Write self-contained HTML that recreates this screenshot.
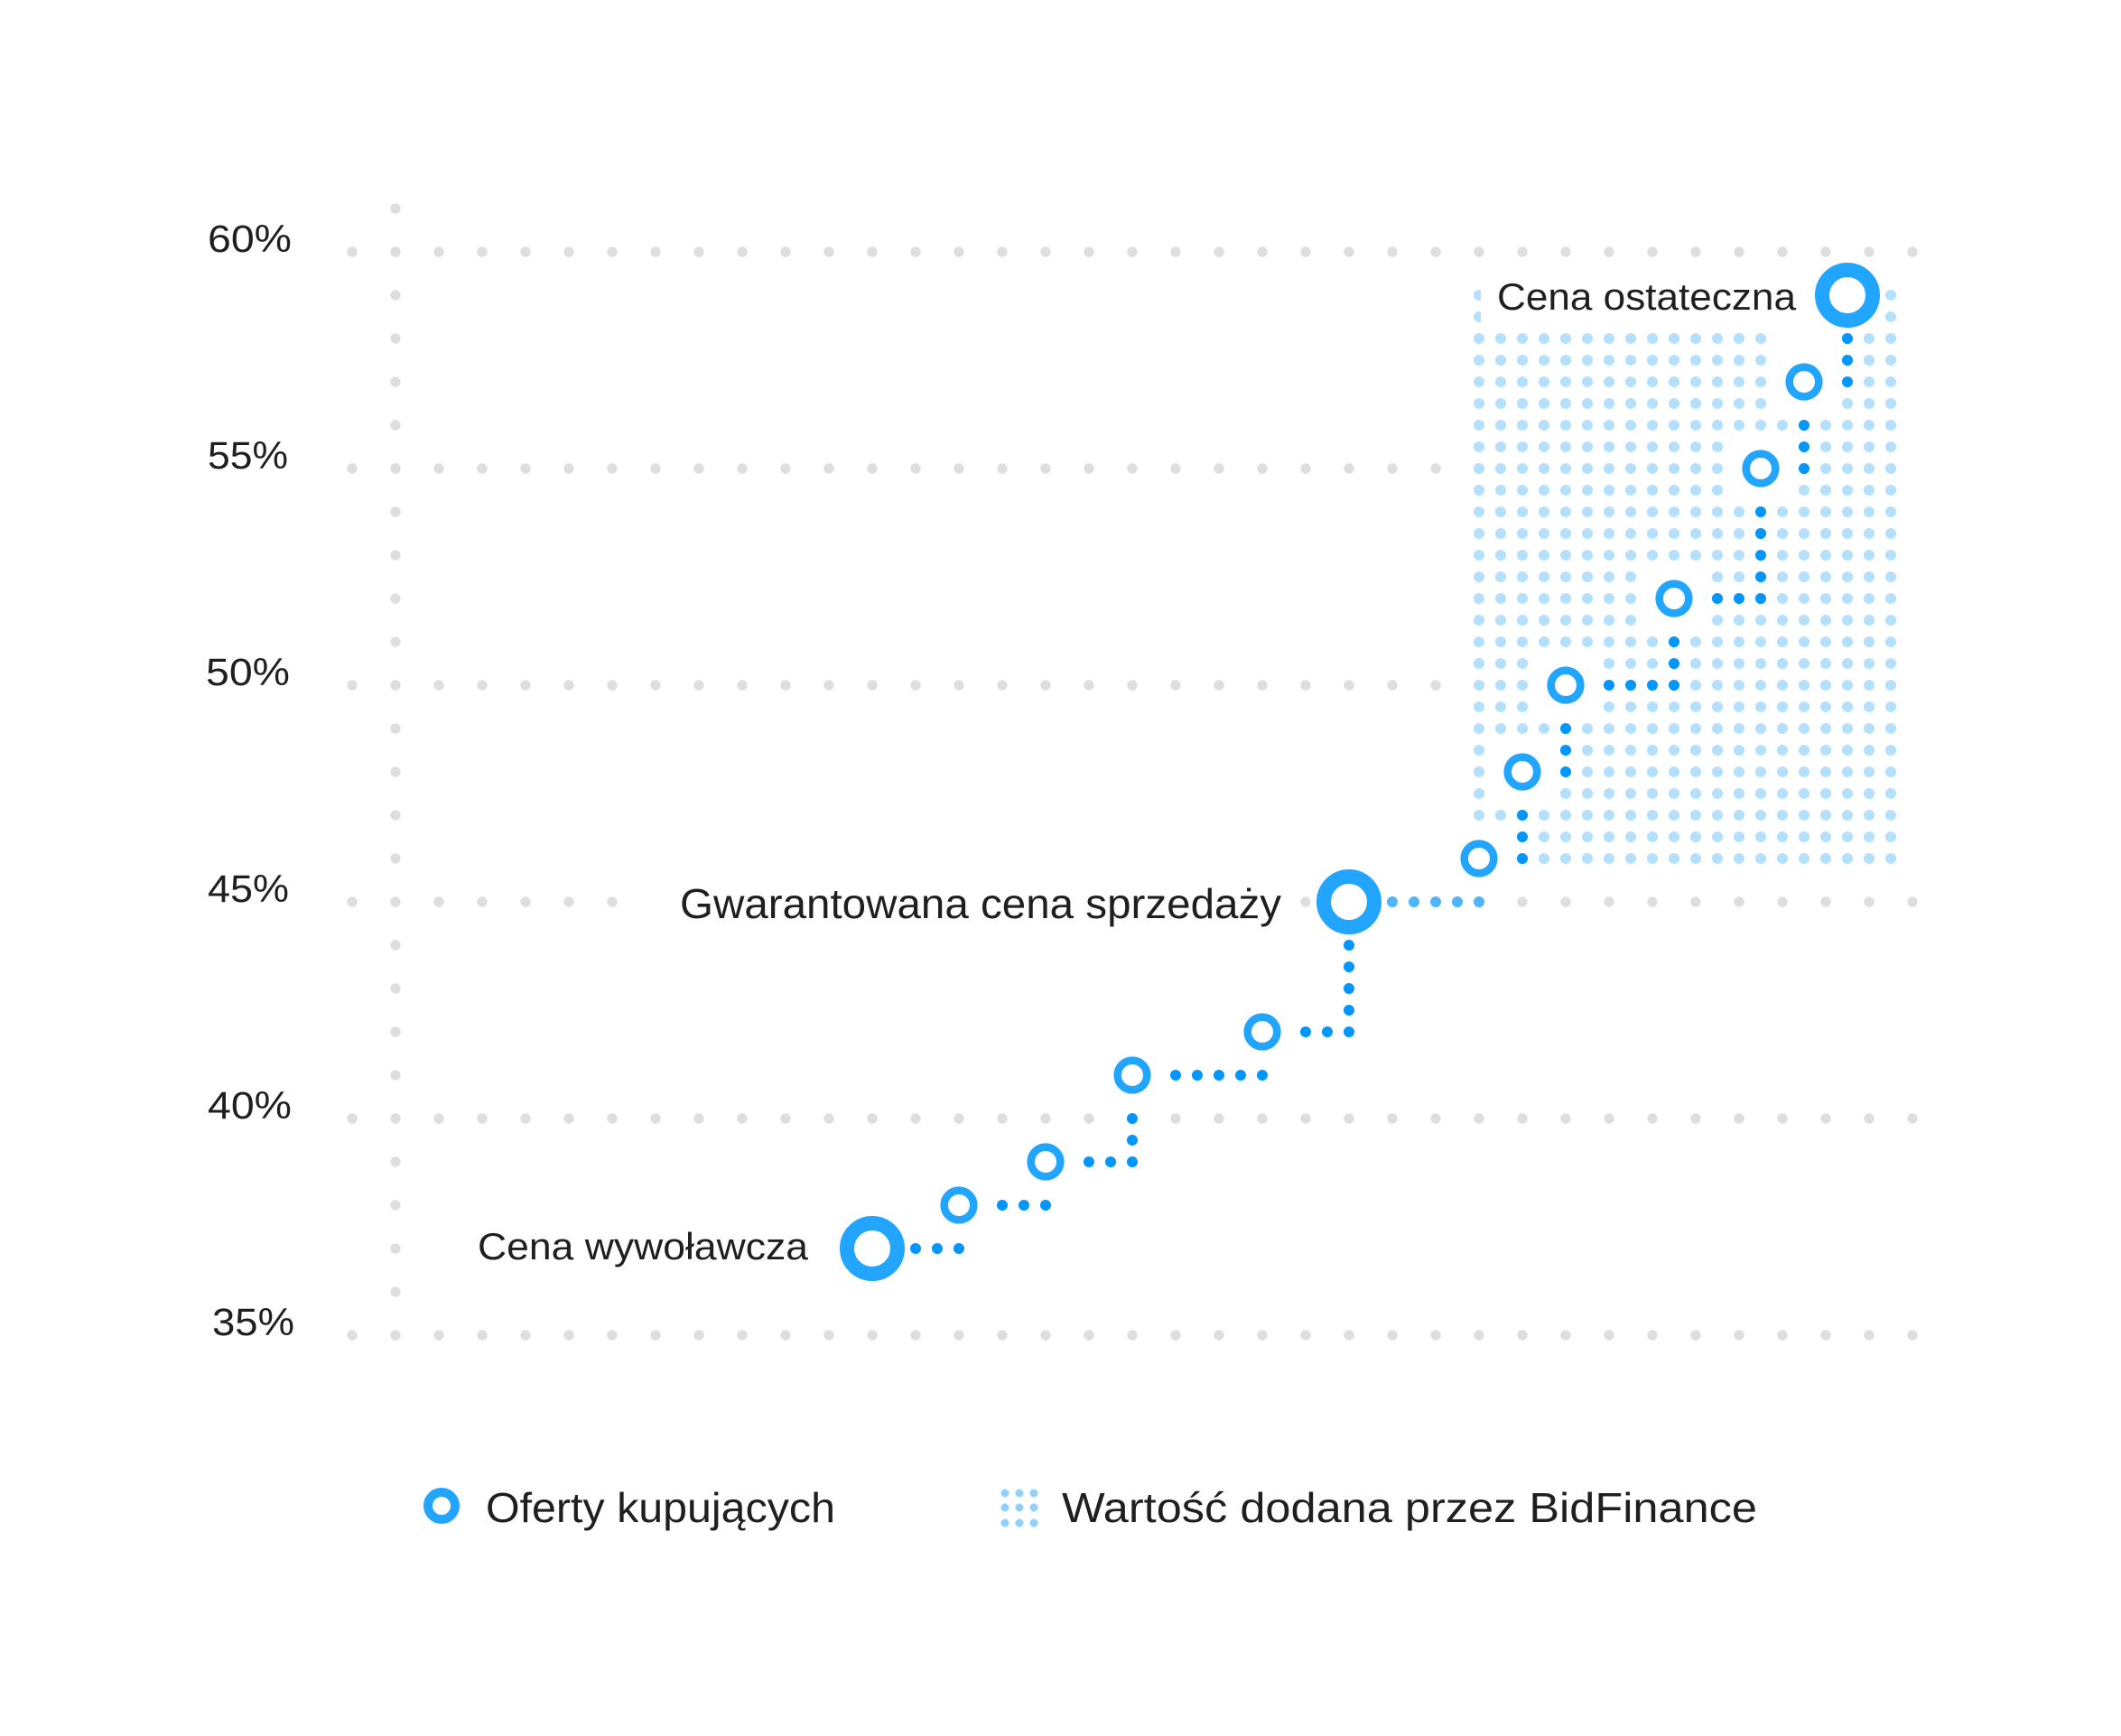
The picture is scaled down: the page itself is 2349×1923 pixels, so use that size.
<!DOCTYPE html>
<html><head><meta charset="utf-8"><style>
html,body{margin:0;padding:0;background:#fff;}
svg{display:block;}
text{font-family:"Liberation Sans","DejaVu Sans",sans-serif;fill:#1f1f1f;}
</style></head><body>
<svg width="2349" height="1923" viewBox="0 0 2349 1923" xmlns="http://www.w3.org/2000/svg">
<defs>
<pattern id="g" patternUnits="userSpaceOnUse" x="0" y="0" width="48" height="48">
<circle cx="6" cy="39" r="5.7" fill="#dedede"/>
</pattern>
<pattern id="b" patternUnits="userSpaceOnUse" x="0" y="0" width="24" height="24">
<circle cx="6" cy="15" r="6" fill="#b5e0fd"/>
</pattern>
</defs>
<rect width="2349" height="1923" fill="#fff"/>
<rect x="380" y="273" width="1750" height="12" fill="url(#g)"/>
<rect x="380" y="513" width="1750" height="12" fill="url(#g)"/>
<rect x="380" y="753" width="1750" height="12" fill="url(#g)"/>
<rect x="380" y="993" width="1750" height="12" fill="url(#g)"/>
<rect x="380" y="1233" width="1750" height="12" fill="url(#g)"/>
<rect x="380" y="1473" width="1750" height="12" fill="url(#g)"/>
<rect x="432" y="225" width="12" height="1260" fill="url(#g)"/>
<rect x="2106" y="507" width="24" height="24" fill="#fff"/>
<rect x="2106" y="747" width="24" height="24" fill="#fff"/>
<rect x="1630" y="319" width="472" height="640" fill="url(#b)"/>
<g fill="#fff">
<rect x="1640" y="315" width="346" height="48"/>
<rect x="1986" y="315" width="96" height="48"/>
<rect x="1962" y="363" width="72" height="24"/>
<rect x="1602" y="915" width="72" height="72"/>
<rect x="1650" y="819" width="72" height="72"/>
<rect x="1698" y="723" width="72" height="72"/>
<rect x="1818" y="627" width="72" height="72"/>
<rect x="1914" y="483" width="72" height="72"/>
<rect x="1962" y="387" width="72" height="72"/>
<rect x="700" y="985" width="730" height="30"/>
</g>
<g fill="#0096ff">
<circle cx="1014" cy="1383" r="6"/><circle cx="1038" cy="1383" r="6"/><circle cx="1062" cy="1383" r="6"/>
<circle cx="1110" cy="1335" r="6"/><circle cx="1134" cy="1335" r="6"/><circle cx="1158" cy="1335" r="6"/>
<circle cx="1206" cy="1287" r="6"/><circle cx="1230" cy="1287" r="6"/><circle cx="1254" cy="1287" r="6"/><circle cx="1254" cy="1263" r="6"/><circle cx="1254" cy="1239" r="6"/>
<circle cx="1302" cy="1191" r="6"/><circle cx="1326" cy="1191" r="6"/><circle cx="1350" cy="1191" r="6"/><circle cx="1374" cy="1191" r="6"/><circle cx="1398" cy="1191" r="6"/>
<circle cx="1446" cy="1143" r="6"/><circle cx="1470" cy="1143" r="6"/><circle cx="1494" cy="1143" r="6"/><circle cx="1494" cy="1119" r="6"/><circle cx="1494" cy="1095" r="6"/><circle cx="1494" cy="1071" r="6"/><circle cx="1494" cy="1047" r="6"/>
<circle cx="1686" cy="951" r="6"/><circle cx="1686" cy="927" r="6"/><circle cx="1686" cy="903" r="6"/>
<circle cx="1734" cy="855" r="6"/><circle cx="1734" cy="831" r="6"/><circle cx="1734" cy="807" r="6"/>
<circle cx="1782" cy="759" r="6"/><circle cx="1806" cy="759" r="6"/><circle cx="1830" cy="759" r="6"/><circle cx="1854" cy="759" r="6"/><circle cx="1854" cy="735" r="6"/><circle cx="1854" cy="711" r="6"/>
<circle cx="1902" cy="663" r="6"/><circle cx="1926" cy="663" r="6"/><circle cx="1950" cy="663" r="6"/><circle cx="1950" cy="639" r="6"/><circle cx="1950" cy="615" r="6"/><circle cx="1950" cy="591" r="6"/><circle cx="1950" cy="567" r="6"/>
<circle cx="1998" cy="519" r="6"/><circle cx="1998" cy="495" r="6"/><circle cx="1998" cy="471" r="6"/>
<circle cx="2046" cy="423" r="6"/><circle cx="2046" cy="399" r="6"/><circle cx="2046" cy="375" r="6"/>
</g>
<g fill="#4fb5ff">
<circle cx="1542" cy="999" r="6"/><circle cx="1566" cy="999" r="6"/><circle cx="1590" cy="999" r="6"/><circle cx="1614" cy="999" r="6"/><circle cx="1638" cy="999" r="6"/>
</g>
<g fill="#fff" stroke="#22a5ff">
<circle cx="966" cy="1383" r="28" stroke-width="16"/>
<circle cx="1494" cy="999" r="28" stroke-width="16"/>
<circle cx="2046" cy="327" r="28" stroke-width="16"/>
<g stroke-width="8.6">
<circle cx="1062" cy="1335" r="16.3"/>
<circle cx="1158" cy="1287" r="16.3"/>
<circle cx="1254" cy="1191" r="16.3"/>
<circle cx="1398" cy="1143" r="16.3"/>
<circle cx="1638" cy="951" r="16.3"/>
<circle cx="1686" cy="855" r="16.3"/>
<circle cx="1734" cy="759" r="16.3"/>
<circle cx="1854" cy="663" r="16.3"/>
<circle cx="1950" cy="519" r="16.3"/>
<circle cx="1998" cy="423" r="16.3"/>
</g>
</g>
<g font-size="43">
<text x="230" y="279" textLength="93" lengthAdjust="spacingAndGlyphs">60%</text>
<text x="230" y="519" textLength="89" lengthAdjust="spacingAndGlyphs">55%</text>
<text x="228" y="759" textLength="93" lengthAdjust="spacingAndGlyphs">50%</text>
<text x="230" y="999" textLength="90" lengthAdjust="spacingAndGlyphs">45%</text>
<text x="230" y="1239" textLength="93" lengthAdjust="spacingAndGlyphs">40%</text>
<text x="235" y="1479" textLength="91" lengthAdjust="spacingAndGlyphs">35%</text>
</g>
<text x="529" y="1395" font-size="42" textLength="366" lengthAdjust="spacingAndGlyphs">Cena wywoławcza</text>
<text x="753" y="1017" font-size="46" textLength="666" lengthAdjust="spacingAndGlyphs">Gwarantowana cena sprzedaży</text>
<text x="1658" y="343" font-size="42" textLength="331" lengthAdjust="spacingAndGlyphs">Cena ostateczna</text>
<circle cx="489" cy="1668" r="15" fill="#fff" stroke="#22a5ff" stroke-width="10"/>
<text x="538" y="1686" font-size="46" textLength="387" lengthAdjust="spacingAndGlyphs">Oferty kupujących</text>
<g fill="#8fd0ff">
<circle cx="1113" cy="1654" r="4.5"/><circle cx="1129" cy="1654" r="4.5"/><circle cx="1145" cy="1654" r="4.5"/>
<circle cx="1113" cy="1670" r="4.5"/><circle cx="1129" cy="1670" r="4.5"/><circle cx="1145" cy="1670" r="4.5"/>
<circle cx="1113" cy="1687" r="4.5"/><circle cx="1129" cy="1687" r="4.5"/><circle cx="1145" cy="1687" r="4.5"/>
</g>
<text x="1176" y="1686" font-size="46" textLength="770" lengthAdjust="spacingAndGlyphs">Wartość dodana przez BidFinance</text>
</svg>
</body></html>
